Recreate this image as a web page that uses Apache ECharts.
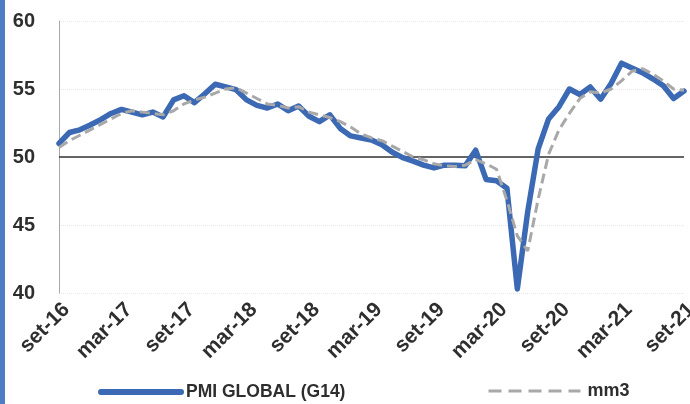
<!DOCTYPE html>
<html>
<head>
<meta charset="utf-8">
<script src="https://cdn.jsdelivr.net/npm/echarts@6/dist/echarts.min.js"></script>
<style>
  html, body { margin: 0; padding: 0; background: #ffffff; }
  #chart { width: 690px; height: 404px; }
</style>
</head>
<body>
<div id="chart"></div>
<script>
// Monthly categories, set-16 .. set-21
const months = [
  'set-16','out-16','nov-16','dez-16','jan-17','fev-17','mar-17','abr-17','mai-17','jun-17','jul-17','ago-17',
  'set-17','out-17','nov-17','dez-17','jan-18','fev-18','mar-18','abr-18','mai-18','jun-18','jul-18','ago-18',
  'set-18','out-18','nov-18','dez-18','jan-19','fev-19','mar-19','abr-19','mai-19','jun-19','jul-19','ago-19',
  'set-19','out-19','nov-19','dez-19','jan-20','fev-20','mar-20','abr-20','mai-20','jun-20','jul-20','ago-20',
  'set-20','out-20','nov-20','dez-20','jan-21','fev-21','mar-21','abr-21','mai-21','jun-21','jul-21','ago-21',
  'set-21'
];

// PMI GLOBAL (G14)
const pmiGlobal = [
  51.0, 51.8, 52.0, 52.35, 52.75, 53.2, 53.5, 53.3, 53.1, 53.3, 52.95, 54.2,
  54.5, 54.0, 54.65, 55.35, 55.15, 54.95, 54.2, 53.8, 53.6, 53.9, 53.4, 53.75,
  53.0, 52.6, 53.1, 52.1, 51.55, 51.4, 51.25, 50.9, 50.35, 49.95, 49.7, 49.4,
  49.2, 49.4, 49.4, 49.35, 50.5, 48.35, 48.25, 47.7, 40.3, 46.0, 50.6, 52.8,
  53.7, 55.0, 54.6, 55.15, 54.25, 55.4, 56.9, 56.55, 56.2, 55.75, 55.25, 54.3,
  54.85
];

// 3-month moving average
const mm3 = [
  50.7, 51.2, 51.6, 52.0, 52.4, 52.8, 53.2, 53.4, 53.3, 53.2, 53.1, 53.4,
  53.9, 54.2, 54.4, 54.7, 55.0, 55.1, 54.7, 54.3, 53.9, 53.8, 53.6, 53.7,
  53.3, 53.1, 52.9, 52.6, 52.2, 51.7, 51.4, 51.2, 50.8, 50.4, 50.0, 49.8,
  49.5, 49.35, 49.3, 49.4, 49.8, 49.5, 49.1, 46.8, 44.2, 43.1, 46.9, 50.2,
  52.0, 53.2, 54.3, 54.8, 54.7, 55.0, 55.6, 56.3, 56.5, 56.1, 55.6, 55.0,
  54.9
];

const yMin = 40, yMax = 60, yStep = 5;
const referenceLevel = 50;

const chart = echarts.init(document.getElementById('chart'), null, { renderer: 'canvas' });

const textColor = '#2e2e2e';
const fontFamily = '"Liberation Sans", Arial, sans-serif';
const blue = '#3b69b3';
const grey = '#a8a8a8';

const legendText = { color: textColor, fontWeight: 'bold', fontFamily: fontFamily };

chart.setOption({
  animation: false,
  backgroundColor: '#ffffff',
  grid: { left: 59, right: 6, top: 21, bottom: 111, containLabel: false, outerBoundsMode: 'none' },
  graphic: [
    { type: 'rect', left: 0, top: 0, shape: { width: 5, height: 404 }, style: { fill: '#4f7dc4' }, silent: true }
  ],
  legend: [
    {
      left: 93,
      top: 378,
      itemWidth: 80,
      itemHeight: 12,
      itemStyle: { opacity: 0 },
      textStyle: Object.assign({ fontSize: 17.5 }, legendText),
      data: [{ name: 'PMI GLOBAL (G14)', lineStyle: { width: 6, color: blue } }]
    },
    {
      left: 482,
      top: 377,
      itemWidth: 92,
      itemHeight: 12,
      itemStyle: { opacity: 0 },
      textStyle: Object.assign({ fontSize: 18, padding: [0, 0, 0, 2] }, legendText),
      data: [{ name: 'mm3', lineStyle: { width: 3, color: grey, type: [13, 7] } }]
    }
  ],
  xAxis: {
    type: 'category',
    data: months,
    boundaryGap: false,
    axisLine: { show: false },
    axisTick: { show: false },
    splitLine: { show: false },
    axisLabel: {
      interval: 5,
      rotate: 45,
      align: 'right',
      verticalAlign: 'top',
      margin: 6,
      color: textColor,
      fontSize: 21,
      fontWeight: 'bold',
      fontFamily: fontFamily
    }
  },
  yAxis: {
    type: 'value',
    min: yMin,
    max: yMax,
    interval: yStep,
    axisLine: { show: true, lineStyle: { color: '#a8a8a8', width: 1 } },
    axisTick: { show: false },
    axisLabel: {
      margin: 24,
      color: textColor,
      fontSize: 20,
      fontWeight: 'bold',
      fontFamily: fontFamily
    },
    splitLine: { show: true, lineStyle: { color: '#e6e6e6', type: 'dotted', width: 1 } }
  },
  series: [
    {
      name: 'PMI GLOBAL (G14)',
      type: 'line',
      data: pmiGlobal,
      symbol: 'none',
      smooth: false,
      color: blue,
      lineStyle: { color: blue, width: 5.5, join: 'round', cap: 'round' },
      z: 3,
      markLine: {
        silent: true,
        symbol: 'none',
        label: { show: false },
        lineStyle: { color: '#333333', width: 1.5, type: 'solid' },
        data: [{ yAxis: referenceLevel }],
        z: 1
      }
    },
    {
      name: 'mm3',
      type: 'line',
      data: mm3,
      symbol: 'none',
      smooth: false,
      color: grey,
      lineStyle: { color: grey, width: 3, type: [10, 5] },
      z: 4
    }
  ]
});
</script>
</body>
</html>
